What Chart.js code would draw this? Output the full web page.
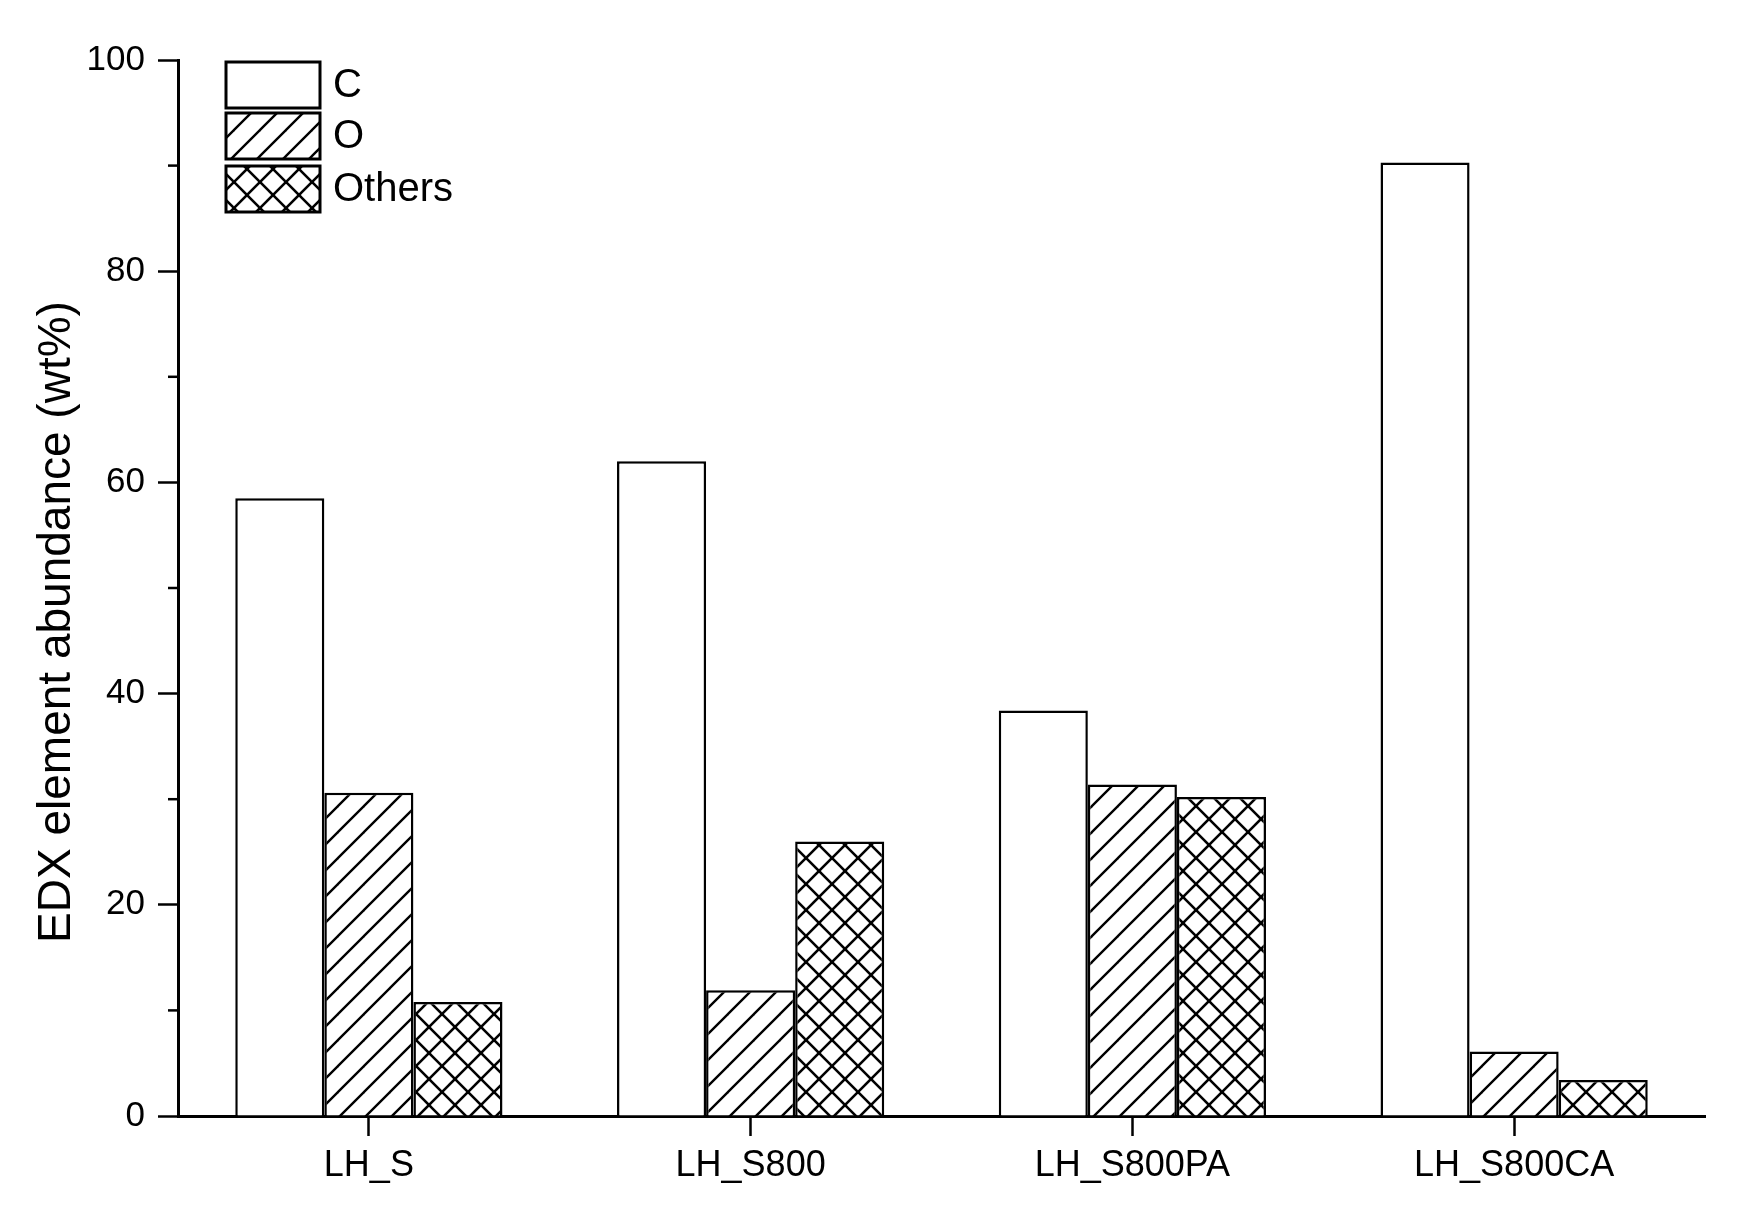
<!DOCTYPE html>
<html>
<head>
<meta charset="utf-8">
<script src="https://cdn.jsdelivr.net/npm/chart.js@4.4.1/dist/chart.umd.min.js"></script>
<style>
  html, body { margin: 0; padding: 0; background: #ffffff; }
  canvas { display: block; }
</style>
</head>
<body>
<canvas id="c" width="1742" height="1218"></canvas>
<script>
// ---- data ----
const categories = ["LH_S", "LH_S800", "LH_S800PA", "LH_S800CA"];
const seriesNames = ["C", "O", "Others"];
const valuesC = [58.5, 62.0, 38.4, 90.3];
const valuesO = [30.6, 11.9, 31.4, 6.1];
const valuesOthers = [10.8, 26.0, 30.2, 3.4];
const yMajorTicks = [0, 20, 40, 60, 80, 100];
const yMinorTicks = [10, 30, 50, 70, 90];
const yTitle = "EDX element abundance (wt%)";

const FONT = "'Liberation Sans', Arial, 'DejaVu Sans', sans-serif";

function makePattern(kind, p, lw) {
  const c = document.createElement('canvas');
  c.width = p; c.height = p;
  const g = c.getContext('2d');
  g.fillStyle = '#ffffff';
  g.fillRect(0, 0, p, p);
  g.strokeStyle = '#000000';
  g.lineWidth = lw;
  g.lineCap = 'square';
  function seg(x1, y1, x2, y2) { g.beginPath(); g.moveTo(x1, y1); g.lineTo(x2, y2); g.stroke(); }
  if (kind === 'fwd' || kind === 'cross') {
    seg(0, p, p, 0);
    seg(-p / 2, p / 2, p / 2, -p / 2);
    seg(p / 2, 3 * p / 2, 3 * p / 2, p / 2);
  }
  if (kind === 'cross') {
    seg(0, 0, p, p);
    seg(p / 2, -p / 2, 3 * p / 2, p / 2);
    seg(-p / 2, p / 2, p / 2, 3 * p / 2);
  }
  const ctx = document.getElementById('c').getContext('2d');
  return ctx.createPattern(c, 'repeat');
}

const fills = ['#ffffff', makePattern('fwd', 26, 2.4), makePattern('cross', 26, 2.6)];
const seriesValues = [valuesC, valuesO, valuesOthers];

const whiteBg = {
  id: 'whiteBg',
  beforeDraw(chart) {
    const g = chart.ctx;
    g.save();
    g.fillStyle = '#ffffff';
    g.fillRect(0, 0, chart.width, chart.height);
    g.restore();
  }
};

const extras = {
  id: 'extras',
  afterDraw(chart) {
    const g = chart.ctx;
    const y = chart.scales.y;
    // minor ticks
    g.save();
    g.strokeStyle = '#000';
    g.lineWidth = 2.5;
    yMinorTicks.forEach(v => {
      const py = y.getPixelForValue(v);
      g.beginPath();
      g.moveTo(y.right - 10, py);
      g.lineTo(y.right, py);
      g.stroke();
    });
    // y title
    g.translate(57, 622);
    g.rotate(-Math.PI / 2);
    g.fillStyle = '#000';
    g.font = "46px " + FONT;
    g.textAlign = 'center';
    g.textBaseline = 'middle';
    g.fillText(yTitle, 0, 0);
    g.restore();

    // legend
    g.save();
    const boxX = 226, boxW = 94, boxH = 46, rows = [62, 113, 166];
    chart.data.datasets.forEach((ds, i) => {
      const top = rows[i];
      g.fillStyle = ds.backgroundColor;
      g.fillRect(boxX, top, boxW, boxH);
      g.strokeStyle = '#000';
      g.lineWidth = 3;
      g.strokeRect(boxX, top, boxW, boxH);
      g.fillStyle = '#000';
      g.font = "40px " + FONT;
      g.textAlign = 'left';
      g.textBaseline = 'middle';
      g.fillText(ds.label, 333, top + boxH / 2 + 1);
    });
    g.restore();
  }
};

new Chart(document.getElementById('c'), {
  type: 'bar',
  data: {
    labels: categories,
    datasets: seriesNames.map((name, i) => ({
      label: name,
      data: seriesValues[i],
      backgroundColor: fills[i],
      borderColor: '#000000',
      borderWidth: 2.5,
      categoryPercentage: 0.70,
      barPercentage: 1.0
    }))
  },
  options: {
    responsive: false,
    devicePixelRatio: 1,
    animation: false,
    layout: { padding: { left: 0, right: 37, top: 60, bottom: 0 } },
    plugins: {
      legend: { display: false },
      tooltip: { enabled: false },
      title: { display: false }
    },
    scales: {
      x: {
        type: 'category',
        offset: true,
        grid: {
          offset: false,
          drawOnChartArea: false,
          drawTicks: true,
          tickLength: 20,
          tickColor: '#000',
          tickWidth: 2.5
        },
        border: { display: true, color: '#000', width: 3 },
        ticks: {
          color: '#000',
          font: { family: FONT, size: 36 },
          padding: 8,
          maxRotation: 0,
          autoSkip: false
        },
        afterFit(scale) { scale.height = 102; }
      },
      y: {
        min: 0,
        max: 100,
        afterBuildTicks(scale) { scale.ticks = yMajorTicks.map(v => ({ value: v })); },
        grid: {
          drawOnChartArea: false,
          drawTicks: true,
          tickLength: 20,
          tickColor: '#000',
          tickWidth: 2.5
        },
        border: { display: true, color: '#000', width: 3 },
        ticks: {
          color: '#000',
          font: { family: FONT, size: 35 },
          padding: 13
        },
        afterFit(scale) { scale.width = 178; }
      }
    }
  },
  plugins: [whiteBg, extras]
});
</script>
</body>
</html>
